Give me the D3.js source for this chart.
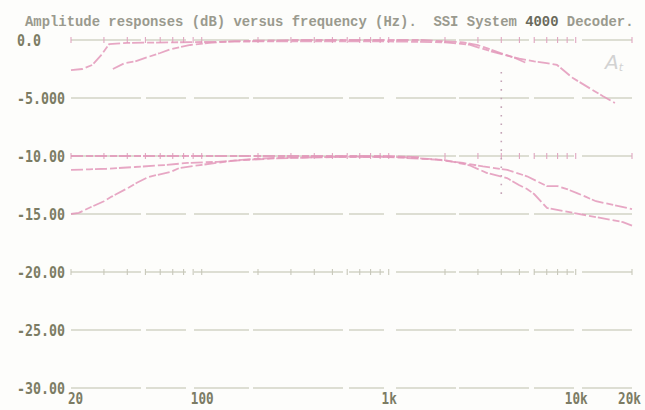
<!DOCTYPE html>
<html>
<head>
<meta charset="utf-8">
<script src="https://cdn.jsdelivr.net/npm/d3@7"></script>
<style>
  body { margin: 0; background: #fdfdfb; }
  svg { display: block; }
</style>
</head>
<body>
<svg width="645" height="410"></svg>
<script>
// niveaux en dB et leurs libellés (axe vertical)
const dbLevels = [0, -5, -10, -15, -20, -25, -30];
const dbLabels = ["0.0", "-5.000", "-10.00", "-15.00", "-20.00", "-25.00", "-30.00"];

// fréquences des libellés (axe horizontal)
const freqLabels = [20, 100, 1000, 10000, 20000];
const freqTexts = ["20", "100", "1k", "10k", "20k"];

// petites croix sur les lignes 0, -10 et -20 dB
const freqTicks = [20, 30, 40, 50, 60, 70, 80, 90, 100, 200, 300, 400, 500, 600, 700, 800, 900,
  1000, 2000, 3000, 4000, 5000, 6000, 7000, 8000, 9000, 10000, 20000];
const tickLevels = [0, -10, -20];

// courbes : [fréquence Hz, dB]
const curveA = [[20, -2.6], [23, -2.5], [26, -2.15], [29, -1.3], [32, -0.35], [40, -0.25], [70, -0.2],
  [200, -0.12], [1000, -0.12], [2000, -0.2], [2700, -0.4], [3480, -0.95], [4200, -1.3], [5000, -1.6],
  [6000, -1.85], [7000, -2.0], [7940, -2.15], [9660, -3.28], [12000, -4.2], [14000, -4.85], [16200, -5.43]];
const curveB = [[33.5, -2.5], [38.6, -2.0], [44, -1.85], [51.5, -1.47], [60, -1.12], [68, -0.8],
  [77, -0.6], [87, -0.43], [110, -0.25], [150, -0.1], [300, 0], [1500, 0], [2500, -0.2], [3000, -0.45],
  [3480, -0.8], [4000, -1.15], [4730, -1.55], [5490, -2.0]];
const curveC = [[20, -11.2], [25, -11.15], [31, -11.1], [44, -10.95], [63, -10.78], [84, -10.6],
  [122, -10.5], [190, -10.25], [260, -10.15], [500, -10.1], [1000, -10.1], [1750, -10.3], [2500, -10.6],
  [3190, -10.9], [4310, -11.2], [5490, -11.75], [7020, -12.6], [8000, -12.6], [8980, -12.85],
  [10160, -13.2], [11360, -13.53], [12830, -13.9], [20000, -14.57]];
const curveD = [[20, -15], [22, -14.9], [26, -14.35], [30, -13.9], [33, -13.5], [41, -12.7], [45, -12.3],
  [52, -11.8], [68, -11.38], [76, -11.03], [98, -10.78], [150, -10.4], [250, -10.2], [600, -10.05],
  [1200, -10.1], [2000, -10.35], [2700, -10.8], [3360, -11.47], [4290, -11.9], [4970, -12.5],
  [5490, -12.84], [5990, -13.28], [7020, -14.48], [17900, -15.7], [20000, -16]];
const curveE = [[20, -10], [100, -10], [1000, -10], [1500, -10.1]];
const curves = [curveA, curveB, curveC, curveD, curveE];

// repère vertical à 4 kHz
const markerFreq = 4000;
const markerRange = [-2.75, -13.6];

const svg = d3.select("svg");

const x = d3.scaleLog().domain([20, 20000]).range([71, 632]);
const y = d3.scaleLinear().domain([0, -30]).range([40, 388]);

const gridColor = "#d2d3c6";
const labelColor = "#7c7c64";
const pink = "#e398ba";

// titre (espaces conservés)
const title = svg.append("text")
  .attr("x", 25).attr("y", 26)
  .style("white-space", "pre")
  .attr("font-family", "Liberation Mono, monospace")
  .attr("font-size", 13.9)
  .attr("font-weight", "bold")
  .attr("fill", "#9a9a8e");
title.append("tspan").text("Amplitude responses (dB) versus frequency (Hz).  SSI System ");
title.append("tspan").attr("fill", "#6a6a5c").text("4000");
title.append("tspan").text(" Decoder.");

// lignes horizontales (un peu cassées comme sur le tracé original)
svg.append("g")
  .selectAll("line")
  .data(dbLevels)
  .join("line")
  .attr("x1", x(20)).attr("x2", x(20000))
  .attr("y1", (d) => y(d)).attr("y2", (d) => y(d))
  .attr("stroke", gridColor)
  .attr("stroke-width", 1.3)
  .attr("stroke-dasharray", "70,5,40,8,55,4,90,6,35,12,60,3");

// petites croix
tickLevels.forEach((lv) => {
  svg.append("g")
    .selectAll("line")
    .data(freqTicks)
    .join("line")
    .attr("x1", (d) => x(d)).attr("x2", (d) => x(d))
    .attr("y1", y(lv) - 3).attr("y2", y(lv) + 3)
    .attr("stroke", lv === -20 ? "#c8c8ba" : "#e0a6c0")
    .attr("stroke-width", 1.1);
});

// repère pointillé à 4 kHz
svg.append("line")
  .attr("x1", x(markerFreq)).attr("x2", x(markerFreq))
  .attr("y1", y(markerRange[0])).attr("y2", y(markerRange[1]))
  .attr("stroke", "#c4a4b6")
  .attr("stroke-width", 1.6)
  .attr("stroke-dasharray", "1.6,7");

// courbes
const line = d3.line()
  .x((d) => x(d[0]))
  .y((d) => y(d[1]));

svg.append("g")
  .selectAll("path")
  .data(curves)
  .join("path")
  .attr("d", line)
  .attr("fill", "none")
  .attr("stroke", pink)
  .attr("stroke-opacity", 0.85)
  .attr("stroke-width", 1.8)
  .attr("stroke-dasharray", "12,3,7,2");

// axe vertical : libellés seulement
const yAxis = d3.axisLeft(y)
  .tickValues(dbLevels)
  .tickFormat((d, i) => dbLabels[i])
  .tickSize(0);
const gy = svg.append("g").call(yAxis);
gy.select(".domain").remove();
gy.selectAll("text")
  .attr("x", 17)
  .attr("dy", null)
  .attr("y", 5.5)
  .attr("text-anchor", "start")
  .attr("font-family", "DejaVu Sans Mono, monospace")
  .attr("font-weight", "bold")
  .attr("font-size", 15)
  .attr("fill", labelColor)
  .attr("textLength", (d, i) => dbLabels[i].length * 8)
  .attr("lengthAdjust", "spacingAndGlyphs");

// axe horizontal
const xAxis = d3.axisBottom(x)
  .tickValues(freqLabels)
  .tickFormat((d, i) => freqTexts[i])
  .tickSize(0);
const gx = svg.append("g").attr("transform", "translate(0,404)").call(xAxis);
gx.select(".domain").remove();
gx.selectAll("text")
  .attr("y", 0)
  .attr("dy", null)
  .attr("x", (d, i) => (i === 0 ? 4 : i === freqTexts.length - 1 ? -3 : 0))
  .attr("font-family", "DejaVu Sans Mono, monospace")
  .attr("font-weight", "bold")
  .attr("font-size", 15)
  .attr("fill", labelColor)
  .attr("textLength", (d, i) => freqTexts[i].length * 7.6)
  .attr("lengthAdjust", "spacingAndGlyphs");

// annotation "A"
const ann = svg.append("text")
  .attr("x", 605).attr("y", 69)
  .attr("font-family", "DejaVu Sans, sans-serif")
  .attr("font-size", 20)
  .attr("font-style", "italic")
  .attr("fill", "#d2d2d2");
ann.append("tspan").text("A");
ann.append("tspan").attr("font-size", 11).attr("dy", 2).text("t");
</script>
</body>
</html>
